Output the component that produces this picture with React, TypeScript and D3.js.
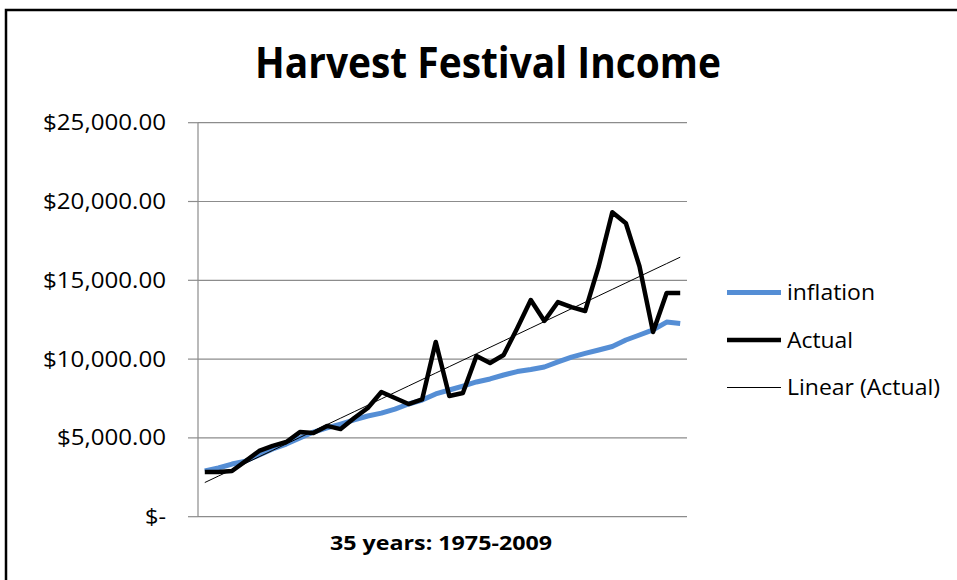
import React from "react";
import * as d3 from "d3";

const years = [
  1974, 1975, 1976, 1977, 1978, 1979, 1980, 1981, 1982, 1983, 1984, 1985,
  1986, 1987, 1988, 1989, 1990, 1991, 1992, 1993, 1994, 1995, 1996, 1997,
  1998, 1999, 2000, 2001, 2002, 2003, 2004, 2005, 2006, 2007, 2008, 2009,
];

const inflation = [
  2900, 3090, 3340, 3530, 3920, 4300, 4610, 4990, 5370, 5630, 5880, 6140,
  6390, 6570, 6830, 7150, 7400, 7790, 8040, 8290, 8550, 8740, 8990, 9210,
  9340, 9500, 9820, 10130, 10360, 10580, 10800, 11210, 11530, 11850, 12350, 12260,
];

const actual = [
  2830, 2830, 2900, 3530, 4170, 4490, 4740, 5370, 5310, 5760, 5560, 6260,
  6900, 7910, 7530, 7150, 7440, 11090, 7660, 7850, 10200, 9750, 10260, 11960,
  13750, 12420, 13620, 13300, 13050, 15890, 19320, 18620, 15890, 11720, 14200, 14200,
];

const yTicks = [0, 5000, 10000, 15000, 20000, 25000];
const yTickLabels = ["$-", "$5,000.00", "$10,000.00", "$15,000.00", "$20,000.00", "$25,000.00"];
const seriesNames = ["inflation", "Actual", "Linear (Actual)"];
const title = "Harvest Festival Income";
const xTitle = "35 years: 1975-2009";

export default function App() {
  const W = 957;
  const H = 580;
  const x = d3.scalePoint<number>().domain(years).range([198, 687]).padding(0.5);
  const y = d3.scaleLinear().domain([0, 25000]).range([516.7, 122.7]);

  // linear trendline (least squares on index)
  const n = actual.length;
  const idx = d3.range(n);
  const mx = d3.mean(idx)!;
  const my = d3.mean(actual)!;
  const slope =
    d3.sum(idx, (i) => (i - mx) * (actual[i] - my)) /
    d3.sum(idx, (i) => (i - mx) * (i - mx));
  const icpt = my - slope * mx;
  const trend = idx.map((i) => icpt + slope * i);

  const line = d3
    .line<number>()
    .x((_, i) => x(years[i])!)
    .y((d) => y(d));

  const fontText = "'Open Sans', 'Noto Sans', sans-serif";
  const gridColor = "#8c8c8c";
  const blue = "#558ed5";
  const labelLen = (s: string) => (s.length >= 10 ? 123 : s.length === 9 ? 109 : 21);

  return (
    <div style={{ position: "fixed", left: 0, top: 0, width: W, height: H, background: "#fff" }}>
      <svg width={W} height={H} style={{ display: "block" }}>
        <rect x={0} y={0} width={W} height={H} fill="#fff" />
        <rect x={6} y={10} width={W + 20} height={H + 20} fill="#fff" stroke="#000" strokeWidth={2.5} />

        <text
          x={488}
          y={78}
          textAnchor="middle"
          fontFamily={fontText}
          fontWeight="bold"
          fontSize={43}
          textLength={466}
          lengthAdjust="spacingAndGlyphs"
          fill="#000"
        >
          {title}
        </text>

        {/* gridlines */}
        {yTicks.map((t) => (
          <line key={"g" + t} x1={198} x2={687} y1={y(t)} y2={y(t)} stroke={gridColor} strokeWidth={1.2} />
        ))}
        {/* y axis */}
        <line x1={198} x2={198} y1={y(25000)} y2={y(0)} stroke={gridColor} strokeWidth={1.2} />
        {yTicks.map((t) => (
          <line key={"t" + t} x1={188} x2={198} y1={y(t)} y2={y(t)} stroke={gridColor} strokeWidth={1.2} />
        ))}
        {yTicks.map((t, i) => (
          <text
            key={"l" + t}
            x={166}
            y={y(t) + 7.5}
            textAnchor="end"
            fontFamily={fontText}
            fontSize={21}
            textLength={labelLen(yTickLabels[i])}
            lengthAdjust="spacingAndGlyphs"
            fill="#000"
          >
            {yTickLabels[i]}
          </text>
        ))}

        <text
          x={441}
          y={550}
          textAnchor="middle"
          fontFamily={fontText}
          fontWeight="bold"
          fontSize={19}
          textLength={222}
          lengthAdjust="spacingAndGlyphs"
          fill="#000"
        >
          {xTitle}
        </text>

        {/* series */}
        <path d={line(inflation)!} fill="none" stroke={blue} strokeWidth={5} strokeLinejoin="round" />
        <path d={line(actual)!} fill="none" stroke="#000" strokeWidth={4.5} strokeLinejoin="round" />
        <path d={line(trend)!} fill="none" stroke="#000" strokeWidth={1} />

        {/* legend */}
        <line x1={727} x2={781} y1={292.5} y2={292.5} stroke={blue} strokeWidth={5} />
        <text x={787} y={300} fontFamily={fontText} fontSize={21} textLength={88} lengthAdjust="spacingAndGlyphs">
          {seriesNames[0]}
        </text>
        <line x1={727} x2={781} y1={340} y2={340} stroke="#000" strokeWidth={4.5} />
        <text x={787} y={347.5} fontFamily={fontText} fontSize={21} textLength={66} lengthAdjust="spacingAndGlyphs">
          {seriesNames[1]}
        </text>
        <line x1={727} x2={781} y1={387.5} y2={387.5} stroke="#000" strokeWidth={1} />
        <text x={787} y={395} fontFamily={fontText} fontSize={21} textLength={153} lengthAdjust="spacingAndGlyphs">
          {seriesNames[2]}
        </text>
      </svg>
    </div>
  );
}
